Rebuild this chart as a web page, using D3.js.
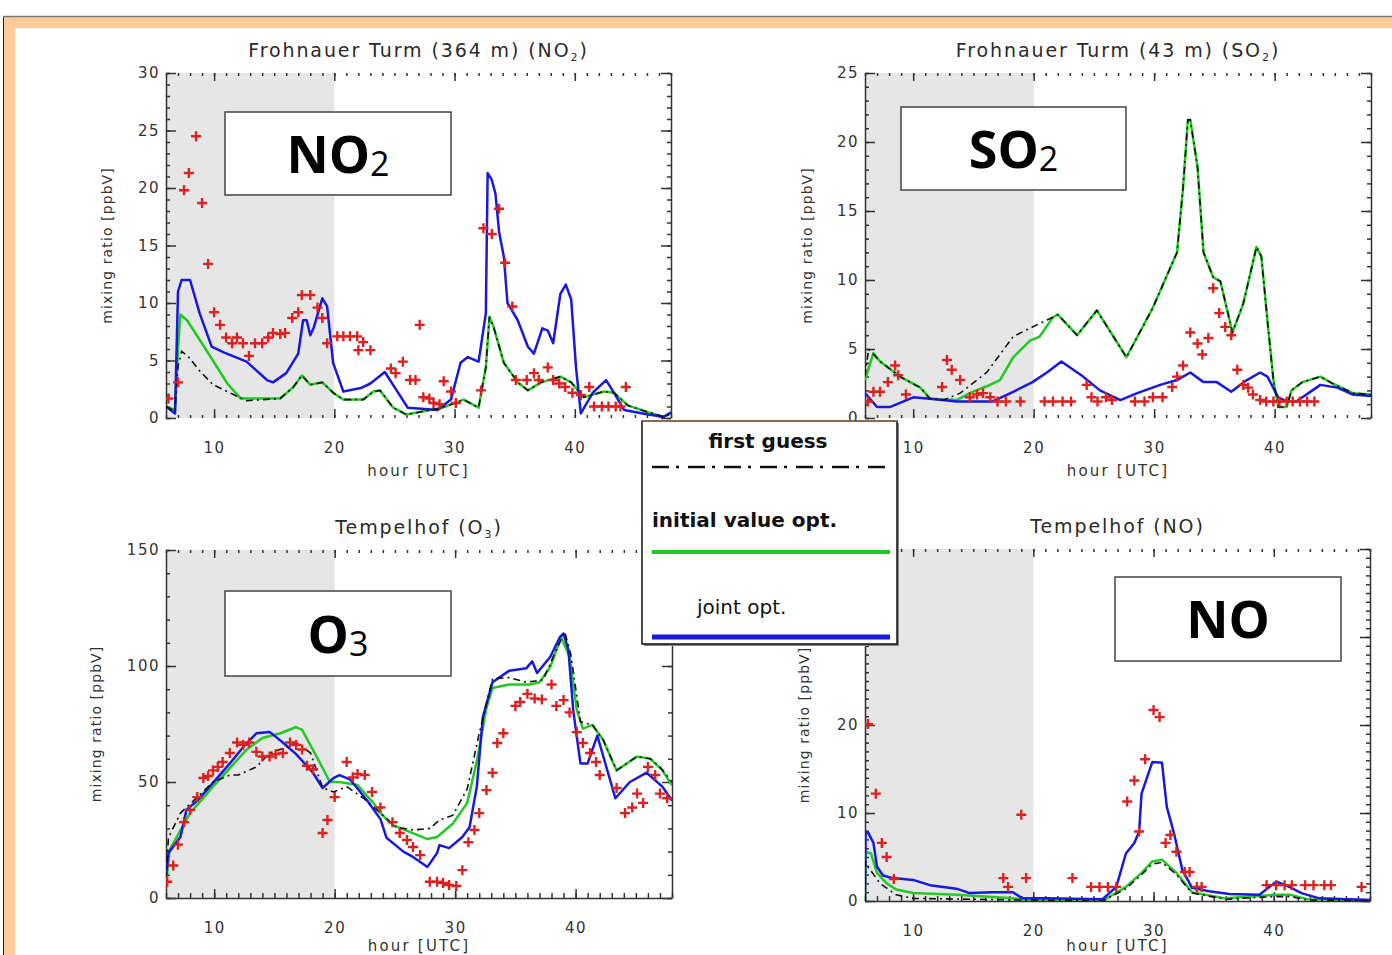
<!DOCTYPE html>
<html>
<head>
<meta charset="utf-8">
<script src="https://cdn.jsdelivr.net/npm/d3@7"></script>
<style>
  html, body { margin: 0; padding: 0; background: #fff; }
  svg { display: block; }
</style>
</head>
<body>
<svg id="chart" width="1392" height="955"></svg>
<script>
// -- Data (hour [UTC], mixing ratio) --
const hourDomain = [6, 48];
const nightEnd = 20;
const hourTicks = [10, 20, 30, 40];

// NO2, Frohnauer Turm 364 m
const no2FirstGuess = [[6,1.0],[6.75,0.6],[7.0,4.5],[7.3,5.8],[7.8,5.4],[8.8,4.1],[9.9,2.9],[11.3,2.2],[12.7,1.5],[15.5,1.7],[16.6,2.7],[17.3,3.7],[18,2.9],[19,3.1],[19.9,2.2],[20.75,1.6],[22.4,1.6],[23.25,2.3],[23.8,2.4],[24.9,0.9],[26,0.3],[29,0.9],[30.75,1.6],[32,0.9],[32.6,4.4],[32.9,8.8],[33.25,7.9],[34.1,4.8],[35.25,3.1],[36.1,2.4],[37.2,3.1],[38.8,3.6],[39.7,3.1],[40.75,1.8],[42.4,2.3],[43.25,2.2],[44.4,1.1],[46.1,0.5],[47.4,0.1],[48,0.4]];
const no2InitialOpt = [[6,1.0],[6.75,0.7],[7.0,6.0],[7.2,9.0],[7.75,8.5],[8.8,6.8],[9.9,5.0],[11.1,3.0],[12.2,1.7],[15.5,1.7],[16.6,2.7],[17.3,3.7],[18,2.9],[19,3.1],[19.9,2.2],[20.75,1.6],[22.4,1.6],[23.25,2.3],[23.8,2.4],[24.9,0.9],[26,0.3],[29,0.9],[30.75,1.6],[32,0.9],[32.6,4.4],[32.9,8.8],[33.25,7.9],[34.1,4.8],[35.25,3.1],[36.1,2.4],[37.2,3.1],[38.8,3.6],[39.7,3.1],[40.75,1.8],[42.4,2.3],[43.25,2.2],[44.4,1.1],[46.1,0.5],[47.4,0.1],[48,0.4]];
const no2JointOpt = [[6,1.0],[6.75,0.4],[7.0,11.0],[7.3,12.0],[8.0,12.0],[8.8,9.1],[9.8,6.2],[10.8,5.7],[12.7,4.9],[14.4,3.3],[14.9,3.1],[16,3.9],[17,5.6],[17.4,8.5],[17.7,8.5],[18,7.2],[18.3,7.9],[19,10.4],[19.4,9.7],[19.9,4.8],[20.75,2.3],[22.2,2.6],[23,3.0],[24.2,4.0],[26.1,0.9],[28.6,0.7],[29.7,1.6],[30.5,4.8],[31.1,5.3],[32,4.9],[32.6,9.1],[32.75,21.3],[33.1,20.7],[33.4,19.5],[33.7,16.2],[34.1,14.0],[34.4,10.0],[35.25,8.5],[36.1,6.2],[36.6,5.6],[37.3,7.8],[37.75,7.6],[38.2,6.5],[38.8,10.8],[39.25,11.6],[39.7,10.3],[40.1,4.4],[40.5,0.4],[41.5,2.2],[42.6,3.3],[43.25,2.2],[44.1,0.7],[46.1,0.3],[47.4,0.1],[48,0.5]];
const no2Obs = [[6.2,1.7],[7.0,3.1],[7.5,19.8],[7.9,21.3],[8.5,24.5],[9.0,18.7],[9.5,13.4],[10,9.2],[10.5,8.1],[11,7.0],[11.5,6.5],[11.9,7.0],[12.4,6.5],[12.9,5.4],[13.4,6.5],[14.0,6.5],[14.5,7.0],[14.9,7.4],[15.5,7.3],[15.9,7.4],[16.5,8.7],[17.0,9.2],[17.3,10.7],[18.0,10.7],[18.6,9.6],[19,8.7],[19.4,6.5],[20.25,7.1],[20.75,7.1],[21.3,7.1],[21.9,7.1],[22.4,6.6],[22,5.9],[23,5.9],[24.7,4.3],[25.1,3.9],[25.7,4.9],[26.3,3.3],[26.75,3.3],[27.1,8.1],[27.4,1.8],[27.9,1.7],[28.25,1.3],[28.75,1.2],[29.1,3.2],[29.7,2.3],[30.1,1.3],[32.2,2.4],[32.4,16.5],[33.1,16.0],[33.7,18.2],[34.2,13.5],[34.8,9.7],[35.1,3.3],[36,3.3],[36.6,3.9],[37,3.3],[37.75,4.4],[38.2,3.3],[38.7,3.0],[39.2,2.7],[39.8,2.2],[40.5,2.0],[41.2,2.7],[41.6,1.0],[42.25,1.0],[42.8,1.0],[43.4,1.0],[43.8,1.0],[44.25,2.7]];

// SO2, Frohnauer Turm 43 m
const so2FirstGuess = [[6,3.0],[6.3,5.0],[7.25,4.1],[8.9,3.0],[10.6,2.2],[11.4,1.4],[12.5,1.3],[13.9,1.8],[16.1,3.3],[18.3,5.9],[19.9,6.6],[21.6,7.3],[22,7.5],[23.6,6.0],[25.25,7.8],[27.7,4.4],[29.9,8.0],[31.9,12.0],[32.4,16.7],[32.8,21.6],[33.0,21.6],[33.6,18.2],[34.1,12.0],[34.9,10.2],[35.5,9.9],[36.5,6.2],[37.4,8.3],[38.5,12.4],[38.9,11.7],[39.4,7.1],[39.9,2.75],[40.3,0.8],[41,0.8],[41.4,2.0],[42.3,2.6],[43.8,3.0],[44.8,2.5],[46.5,1.8],[48,1.7]];
const so2InitialOpt = [[6,2.75],[6.7,4.7],[7.25,4.1],[8.9,3.0],[10.6,2.2],[11.4,1.4],[13.6,1.3],[14.7,1.8],[16.1,2.3],[17.2,2.75],[18.3,4.4],[19.7,5.6],[20.5,5.9],[21.6,7.3],[22,7.5],[23.6,6.0],[25.25,7.8],[27.7,4.4],[29.9,8.0],[31.9,12.0],[32.4,16.7],[32.8,21.6],[33.0,21.6],[33.6,18.2],[34.1,12.0],[34.9,10.2],[35.5,9.9],[36.5,6.2],[37.4,8.3],[38.5,12.4],[38.9,11.7],[39.4,7.1],[39.9,2.75],[40.3,0.8],[41,0.8],[41.4,2.0],[42.3,2.6],[43.8,3.0],[44.8,2.5],[46.5,1.8],[48,1.7]];
const so2JointOpt = [[6,1.8],[7.0,0.8],[8.1,0.8],[10,1.5],[11.4,1.4],[13.6,1.2],[16.6,1.2],[18.3,1.9],[19.9,2.6],[21.1,3.3],[22.3,4.1],[24.1,3.0],[25.5,2.0],[27.2,1.3],[28.6,1.8],[30.5,2.4],[31.9,2.75],[33,3.3],[34.1,2.6],[35.2,2.6],[36.4,1.9],[37.7,2.75],[38.8,3.3],[39.4,3.0],[40.3,1.5],[41,1.2],[41.8,1.2],[43.8,2.4],[45.2,2.2],[46.5,1.7],[48,1.6]];
const so2Obs = [[6.25,1.2],[6.7,1.9],[7.25,1.9],[7.9,2.6],[8.5,3.8],[8.75,3.1],[9.4,1.7],[12.4,2.25],[12.8,4.2],[13.2,3.5],[13.9,2.75],[14.7,1.5],[15.3,1.7],[15.8,1.8],[16.4,1.5],[17,1.2],[17.7,1.2],[18.9,1.2],[20.9,1.2],[21.6,1.2],[22.4,1.2],[23.1,1.2],[24.4,2.4],[24.8,1.5],[25.3,1.2],[26,1.5],[26.5,1.3],[28.4,1.2],[29.2,1.2],[29.9,1.5],[30.7,1.5],[31.5,2.25],[31.9,3.0],[32.4,3.8],[33,6.2],[33.6,5.4],[34,4.6],[34.5,5.8],[34.9,9.4],[35.4,7.6],[35.9,6.6],[36.4,6.0],[36.9,3.5],[37.4,2.4],[37.8,2.2],[38.2,1.7],[38.8,1.3],[39.3,1.2],[39.9,1.2],[40.4,1.2],[41.0,1.2],[41.5,1.2],[42.1,1.2],[42.7,1.2],[43.3,1.2]];

// O3, Tempelhof
const o3FirstGuess = [[6,8],[6.2,26],[7.2,36.6],[8.6,43.5],[9.9,50],[11.3,53],[12,53],[13.5,56.5],[14.6,62.5],[16,65],[16.8,67],[18,62.5],[19,47.5],[19.9,45.7],[21,48],[22.4,43],[23.8,36.6],[25.1,30.6],[26.5,29.3],[27.9,30],[28.7,33.6],[29.8,35.6],[31,47],[32,71],[33.1,94.5],[34.5,95],[35.9,93],[37.3,94],[38.4,107],[39.1,114.7],[39.6,105],[40.4,76],[41.4,74.6],[42.3,68],[43.4,55],[45.1,61],[46.2,60],[47,56.5],[48,50]];
const o3InitialOpt = [[6,5.6],[6.3,20.7],[8,36.6],[9.9,48],[11.3,56],[12.7,64],[14,69],[15.5,71],[16.8,73.7],[17.3,72.5],[18.8,58],[19.6,50],[20.4,50],[21.9,48.7],[23.2,41],[23.8,36.6],[24.8,31.5],[27.7,25.4],[28.5,26.3],[29.8,32],[31,41],[31.8,59],[32.6,82],[33.1,90.5],[34.5,92],[36.2,92],[37,93],[37.9,99.6],[38.8,112.5],[39.5,104],[40.1,81],[40.6,73],[41.4,74.6],[42.3,68],[43.4,55],[45.1,61],[46.2,60],[47.2,55],[48,48.6]];
const o3JointOpt = [[6,9],[6.2,19.4],[7.2,26.3],[7.7,38],[8.6,42],[9.9,49.6],[11.3,58],[12.4,65],[13.5,71],[14.6,71.6],[15.7,67],[16.8,62],[18.2,54],[19,47.4],[19.9,51.7],[20.4,53],[21.3,51],[22.7,42],[23.8,34],[24.3,26],[25.7,20],[26.5,17.7],[27.7,13.4],[28.5,19.4],[28.7,22.8],[29.5,21.5],[30.6,26.3],[31.2,30.6],[31.8,48],[32.3,78],[33.1,93],[34.5,98],[35.9,99],[36.4,102],[36.8,97],[37.9,104],[38.7,112.5],[39,114],[39.4,107],[39.8,81],[40.4,58],[41,58],[41.8,70],[42.3,61],[43.3,43],[44.5,50],[45.9,54],[47.2,48],[48,42]];
const o3Obs = [[6.1,7],[6.6,14],[7.0,23],[7.5,32.7],[8.0,38],[8.6,43.5],[9.1,51.7],[9.5,52.6],[9.9,55],[10.3,56.5],[10.7,58.6],[11.3,62.5],[11.9,67],[12.4,66],[12.9,67],[13.5,63],[14,61],[14.6,61],[15.1,62],[15.7,62.5],[16.3,67],[16.8,66],[17.3,64],[17.7,57],[18.2,55.5],[19,28],[19.4,33.6],[20,43.5],[21,58.6],[21.5,52],[21.9,53.5],[22.5,53],[23.1,45.7],[23.8,39],[24.8,32.7],[25.4,28],[26,25],[26.5,22],[27.1,18.5],[27.9,7],[28.5,7],[29,6.5],[29.5,5.6],[30.1,5.2],[30.6,12],[31.1,24],[31.6,29.3],[32,36.6],[32.6,46.5],[33.1,54],[33.5,66.8],[34,71],[35,82.8],[35.4,84.5],[36,88],[36.6,86],[37.2,85.6],[38,92],[38.4,82.8],[39,85.3],[39.5,80],[40.1,71.5],[40.6,66.8],[41.2,62.5],[41.7,58.6],[42,53],[43.4,47.4],[44.1,36.6],[44.7,39],[45.1,45],[45.6,41],[46,56.5],[46.6,53],[47,45],[47.6,43]];

// NO, Tempelhof
const noFirstGuess = [[6,0],[6.05,4.5],[6.25,3.9],[7.25,2.0],[8.6,0.7],[10,0.3],[19.7,0.1],[25.75,0],[27.7,1.4],[29,3.0],[29.9,4.2],[30.7,4.4],[31.9,3.0],[33.2,0.9],[36,0.2],[39.9,0.5],[41.4,0.5],[42.8,0.1],[48,0]];
const noInitialOpt = [[6,0],[6.05,5.6],[6.5,5.4],[7,3.2],[7.8,2.0],[8.6,1.3],[10,0.9],[13.6,0.7],[18.3,0.3],[19.7,0.1],[25.75,0],[27.7,1.6],[29,3.2],[29.9,4.5],[30.7,4.7],[31.9,3.2],[33.2,1.0],[36,0.3],[39.9,0.7],[41.4,0.7],[42.8,0.2],[48,0.1]];
const noJointOpt = [[6,0],[6.05,7.7],[6.25,7.8],[6.7,6.6],[7.0,3.9],[7.5,2.9],[8.3,2.6],[10,2.4],[11.4,1.8],[13.6,1.4],[14.7,0.9],[16.6,1.0],[18.3,1.0],[19.1,0.3],[21.1,0.3],[25.75,0.2],[26.9,1.6],[27.7,5.4],[28.4,6.6],[28.8,7.9],[29,12.2],[29.9,15.8],[30.7,15.7],[31.1,10.7],[31.7,7.7],[32.4,3.5],[33.2,1.5],[34.6,1.1],[36.3,0.8],[38.8,0.7],[40.2,2.2],[41,1.8],[42.3,0.9],[43.8,0.3],[48,0.1]];
const noObs = [[6.25,20.1],[6.9,12.2],[7.4,6.6],[7.8,5.0],[8.4,2.5],[17.5,2.6],[17.9,1.6],[19,9.8],[19.4,2.6],[23.25,2.6],[24.8,1.6],[25.5,1.6],[26.2,1.6],[26.9,1.6],[27.8,11.3],[28.4,13.7],[28.8,7.9],[29.3,16.1],[30,21.7],[30.5,20.9],[31,6.6],[31.4,7.5],[31.9,5.6],[32.6,3.3],[33,3.3],[33.6,1.6],[34,1.6],[39.4,1.8],[40.2,1.8],[40.9,1.8],[41.5,1.8],[42.6,1.8],[43.3,1.8],[44.2,1.8],[44.75,1.8],[47.3,1.6]];

// -- Styles --
const COLORS = { initial: "#22c922", joint: "#1818e0", first: "#111", obs: "#dd2020", night: "#e6e6e6" };
const FONT = "'DejaVu Sans', sans-serif";

const svg = d3.select("#chart");

// -- Page frame --
svg.append("rect").attr("x", 4).attr("y", 17).attr("width", 1388).attr("height", 938).attr("fill", "#ffcc99");
svg.append("line").attr("x1", 3.5).attr("x2", 3.5).attr("y1", 16).attr("y2", 955).attr("stroke", "#222").attr("stroke-width", 1);
svg.append("line").attr("x1", 3).attr("x2", 1392).attr("y1", 16.5).attr("y2", 16.5).attr("stroke", "#777").attr("stroke-width", 1.5);
svg.append("rect").attr("x", 15).attr("y", 28).attr("width", 1377).attr("height", 927).attr("fill", "#fff");

// -- Panels --
const panels = [
  { title: ["Frohnauer Turm (364 m)  (NO", "2", ")"], label: ["NO", "2"],
    box: [225, 112, 226, 83], left: 166, right: 671, top: 73, bottom: 418,
    yMax: 30, yMajor: 5, yMinor: 1, ylabX: 108, dottedBottom: true,
    first: no2FirstGuess, initial: no2InitialOpt, joint: no2JointOpt, obs: no2Obs },
  { title: ["Frohnauer Turm (43 m)  (SO", "2", ")"], label: ["SO", "2"],
    box: [901, 107, 225, 83], left: 865, right: 1371, top: 73, bottom: 418,
    yMax: 25, yMajor: 5, yMinor: 1, ylabX: 808, dottedBottom: true,
    first: so2FirstGuess, initial: so2InitialOpt, joint: so2JointOpt, obs: so2Obs },
  { title: ["Tempelhof  (O", "3", ")"], label: ["O", "3"],
    box: [225, 591, 226, 85], left: 166, right: 672, top: 550, bottom: 898,
    yMax: 150, yMajor: 50, yMinor: 10, ylabX: 97, dottedBottom: false,
    first: o3FirstGuess, initial: o3InitialOpt, joint: o3JointOpt, obs: o3Obs },
  { title: ["Tempelhof  (NO", "", ")"], label: ["NO", ""],
    box: [1115, 577, 226, 84], left: 865, right: 1370, top: 549, bottom: 901,
    yMax: 40, yMajor: 10, yMinor: 1, ylabX: 805, dottedBottom: false,
    first: noFirstGuess, initial: noInitialOpt, joint: noJointOpt, obs: noObs }
];

panels.forEach((p, i) => drawPanel(p, i));
drawLegend();

function drawPanel(p, i){
  const x = d3.scaleLinear().domain(hourDomain).range([p.left, p.right]);
  const y = d3.scaleLinear().domain([0, p.yMax]).range([p.bottom, p.top]);
  const g = svg.append("g");

  // night shading
  g.append("rect")
    .attr("x", x(hourDomain[0])).attr("y", p.top)
    .attr("width", x(nightEnd) - x(hourDomain[0])).attr("height", p.bottom - p.top)
    .attr("fill", COLORS.night);

  // title
  const t = g.append("text")
    .attr("x", (p.left + p.right) / 2).attr("y", p.top - 16)
    .attr("text-anchor", "middle").attr("font-family", FONT)
    .attr("font-size", 19).attr("letter-spacing", 1.9).attr("fill", "#2a2a2a");
  t.append("tspan").text(p.title[0]);
  if (p.title[1]) t.append("tspan").attr("font-size", 11).attr("dy", 4).text(p.title[1]);
  t.append("tspan").attr("dy", p.title[1] ? -4 : 0).text(p.title[2]);

  const majorY = d3.range(0, p.yMax + 0.001, p.yMajor);
  const minorY = d3.range(0, p.yMax + 0.001, p.yMinor);
  const minorX = d3.range(hourDomain[0], hourDomain[1] + 1, 1);

  const styleAxis = sel => {
    sel.selectAll("line").attr("stroke", "#333").attr("stroke-width", 1.5);
    sel.selectAll("path").attr("stroke", "#333").attr("stroke-width", 1.5);
    sel.selectAll("text").attr("font-family", FONT).attr("font-size", 15)
      .attr("letter-spacing", 1.5).attr("fill", "#333");
  };

  // left axis
  g.append("g").attr("transform", `translate(${p.left},0)`)
    .call(d3.axisLeft(y).tickValues(minorY).tickSize(-4).tickSizeOuter(0).tickFormat(""))
    .call(styleAxis);
  g.append("g").attr("transform", `translate(${p.left},0)`)
    .call(d3.axisLeft(y).tickValues(majorY).tickSize(-10).tickSizeOuter(0).tickPadding(6).tickFormat(d3.format("d")))
    .call(styleAxis).call(a => a.select(".domain").remove());

  // right axis
  g.append("g").attr("transform", `translate(${p.right},0)`)
    .call(d3.axisRight(y).tickValues(minorY).tickSize(-4).tickSizeOuter(0).tickFormat(""))
    .call(styleAxis);
  g.append("g").attr("transform", `translate(${p.right},0)`)
    .call(d3.axisRight(y).tickValues(majorY).tickSize(-10).tickSizeOuter(0).tickFormat(""))
    .call(styleAxis).call(a => a.select(".domain").remove());

  // top axis: ticks only
  g.append("g").attr("transform", `translate(0,${p.top})`)
    .call(d3.axisBottom(x).tickValues(minorX).tickSize(3).tickSizeOuter(0).tickFormat(""))
    .call(styleAxis).call(a => a.select(".domain").remove());
  g.append("g").attr("transform", `translate(0,${p.top})`)
    .call(d3.axisBottom(x).tickValues(hourTicks).tickSize(8).tickSizeOuter(0).tickFormat(""))
    .call(styleAxis).call(a => a.select(".domain").remove());

  // bottom axis
  const bMinor = g.append("g").attr("transform", `translate(0,${p.bottom})`)
    .call(d3.axisTop(x).tickValues(minorX).tickSize(p.dottedBottom ? 3 : 5).tickSizeOuter(0).tickFormat(""))
    .call(styleAxis);
  if (p.dottedBottom) bMinor.select(".domain").remove();
  g.append("g").attr("transform", `translate(0,${p.bottom})`)
    .call(d3.axisBottom(x).tickValues(hourTicks).tickSize(-9).tickSizeOuter(0).tickPadding(24).tickFormat(d3.format("d")))
    .call(styleAxis).call(a => a.select(".domain").remove());

  // axis titles
  g.append("text")
    .attr("x", (p.left + p.right) / 2).attr("y", Math.min(p.bottom + 58, 951))
    .attr("text-anchor", "middle").attr("font-family", FONT).attr("font-size", 15)
    .attr("letter-spacing", 2.2).attr("fill", "#333")
    .text("hour [UTC]");
  g.append("text")
    .attr("transform", `translate(${p.ylabX},${(p.top + p.bottom) / 2}) rotate(-90)`)
    .attr("text-anchor", "middle").attr("dominant-baseline", "middle")
    .attr("font-family", FONT).attr("font-size", 14).attr("letter-spacing", 1.1).attr("fill", "#333")
    .text("mixing ratio [ppbV]");

  // series
  const clipId = `clip-${i}`;
  svg.append("clipPath").attr("id", clipId).append("rect")
    .attr("x", p.left).attr("y", p.top).attr("width", p.right - p.left).attr("height", p.bottom - p.top);
  const plot = g.append("g").attr("clip-path", `url(#${clipId})`);
  const line = d3.line().x(d => x(d[0])).y(d => y(d[1]));

  plot.append("path").datum(p.initial).attr("d", line)
    .attr("fill", "none").attr("stroke", COLORS.initial).attr("stroke-width", 2.5).attr("stroke-linejoin", "round");
  plot.append("path").datum(p.joint).attr("d", line)
    .attr("fill", "none").attr("stroke", COLORS.joint).attr("stroke-width", 2.5).attr("stroke-linejoin", "round");
  plot.append("path").datum(p.first).attr("d", line)
    .attr("fill", "none").attr("stroke", COLORS.first).attr("stroke-width", 1.6)
    .attr("stroke-dasharray", "7,4,2,4");

  plot.selectAll(".obs").data(p.obs).enter().append("path")
    .attr("class", "obs")
    .attr("transform", d => `translate(${x(d[0])},${y(d[1])})`)
    .attr("d", "M-5,0H5M0,-5V5")
    .attr("stroke", COLORS.obs).attr("stroke-width", 2.4).attr("fill", "none");

  // species label box
  const [bx, by, bw, bh] = p.box;
  svg.append("rect").attr("x", bx).attr("y", by).attr("width", bw).attr("height", bh)
    .attr("fill", "#fff").attr("stroke", "#444").attr("stroke-width", 1.5);
  const lt = svg.append("text")
    .attr("x", bx + bw / 2).attr("y", by + bh / 2 + 19)
    .attr("text-anchor", "middle").attr("font-family", "'Open Sans', sans-serif").attr("fill", "#000");
  lt.append("tspan").attr("font-size", 52).attr("font-weight", 700).text(p.label[0]);
  if (p.label[1]) lt.append("tspan").attr("font-size", 34).attr("font-weight", 400).attr("dy", 3).text(p.label[1]);
}

function drawLegend(){
  const lx = 642, ly = 421, lw = 255, lh = 223;
  const g = svg.append("g");
  g.append("rect").attr("x", lx + 2).attr("y", ly + 2).attr("width", lw).attr("height", lh).attr("fill", "#888");
  g.append("rect").attr("x", lx).attr("y", ly).attr("width", lw).attr("height", lh)
    .attr("fill", "#fff").attr("stroke", "#111").attr("stroke-width", 1.5);
  g.append("line").attr("x1", lx).attr("x2", lx + lw).attr("y1", ly).attr("y2", ly)
    .attr("stroke", "#d08a50").attr("stroke-width", 1.2);

  const items = [
    { text: "first guess", x: 768, anchor: "middle", ty: 448, weight: 700, ly: 467, color: COLORS.first, width: 2.5, dash: "17,7,3,9" },
    { text: "initial value opt.", x: 652, anchor: "start", ty: 527, weight: 700, ly: 552, color: COLORS.initial, width: 4, dash: null },
    { text: "joint opt.", x: 697, anchor: "start", ty: 614, weight: 400, ly: 637, color: COLORS.joint, width: 5, dash: null }
  ];
  items.forEach(it => {
    g.append("text").attr("x", it.x).attr("y", it.ty).attr("text-anchor", it.anchor)
      .attr("font-family", FONT).attr("font-size", 20).attr("font-weight", it.weight).attr("fill", "#111")
      .text(it.text);
    g.append("line").attr("x1", 652).attr("x2", 890).attr("y1", it.ly).attr("y2", it.ly)
      .attr("stroke", it.color).attr("stroke-width", it.width)
      .attr("stroke-dasharray", it.dash);
  });
}
</script>
</body>
</html>
